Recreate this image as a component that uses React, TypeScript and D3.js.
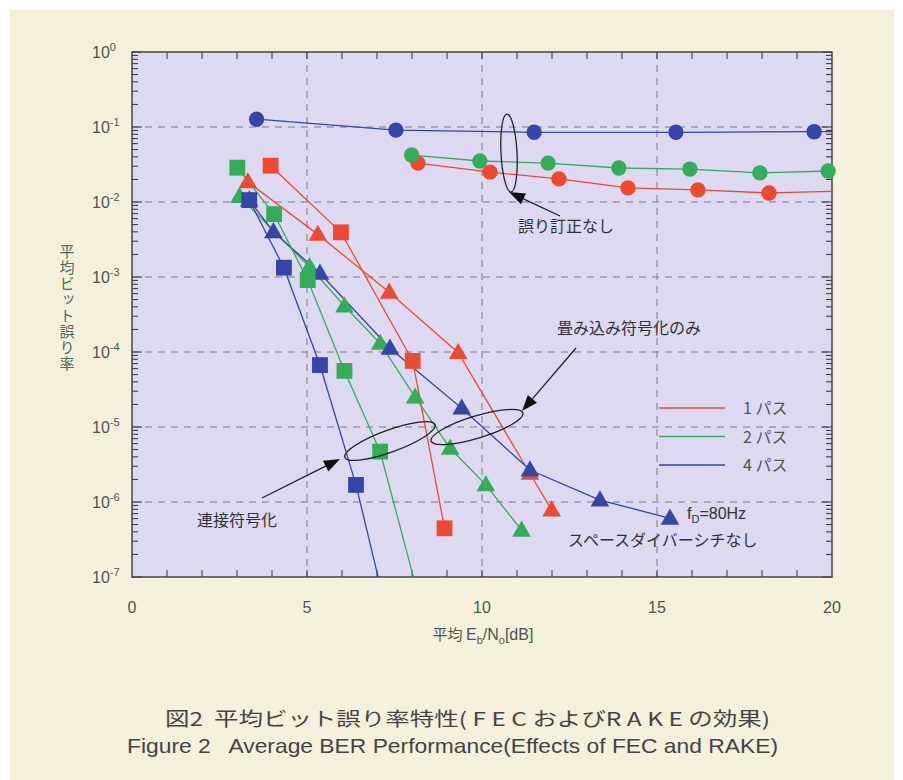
import React from 'react';
import * as d3 from 'd3';

// Eb/No [dB] and BER
const noFec1X = [8.17, 10.23, 12.2, 14.17, 16.17, 18.2, 20.5];
const noFec1Y = [0.033, 0.025, 0.0203, 0.0154, 0.0145, 0.0132, 0.0141];
const noFec2X = [7.99, 9.94, 11.89, 13.91, 15.94, 17.94, 19.89];
const noFec2Y = [0.0423, 0.0352, 0.033, 0.0284, 0.0275, 0.0244, 0.0259];
const noFec4X = [3.56, 7.54, 11.49, 15.54, 19.49, 20.6];
const noFec4Y = [0.127, 0.091, 0.085, 0.085, 0.0865, 0.0865];

const concat1X = [3.96, 5.97, 8.02, 8.93];
const concat1Y = [0.0305, 0.00394, 7.6e-5, 4.46e-7];
const concat2X = [3.01, 4.06, 5.02, 6.07, 7.09, 8.3];
const concat2Y = [0.0287, 0.0069, 9.1e-4, 5.6e-5, 4.7e-6, 3.5e-8];
const concat4X = [3.35, 4.34, 5.37, 6.4, 7.2];
const concat4Y = [0.0106, 1.33e-3, 6.7e-5, 1.69e-6, 4.7e-8];

const conv1X = [3.31, 5.31, 7.35, 9.32, 11.37, 11.99];
const conv1Y = [0.0185, 3.7e-3, 6.25e-4, 9.8e-5, 2.4e-6, 7.8e-7];
const conv2X = [3.07, 5.07, 6.07, 7.09, 8.09, 9.09, 10.11, 11.13];
const conv2Y = [0.0118, 1.37e-3, 4.1e-4, 1.3e-4, 2.5e-5, 5.2e-6, 1.69e-6, 4.2e-7];
const conv4X = [3.35, 4.04, 5.37, 7.37, 9.42, 11.37, 13.37, 15.37];
const conv4Y = [0.0106, 4.0e-3, 1.12e-3, 1.12e-4, 1.78e-5, 2.67e-6, 1.06e-6, 6.07e-7];

const xTicks = [0, 5, 10, 15, 20];
const yExponents = [0, -1, -2, -3, -4, -5, -6, -7];
const legendLabels = ['1 パス', '2 パス', '4 パス'];

const RED = '#ee4a30';
const GREEN = '#35ac58';
const BLUE = '#3446a8';
const colors = [RED, GREEN, BLUE];

const series = [
  { x: conv1X, y: conv1Y, color: RED, shape: 'tri' },
  { x: conv2X, y: conv2Y, color: GREEN, shape: 'tri' },
  { x: conv4X, y: conv4Y, color: BLUE, shape: 'tri' },
  { x: concat1X, y: concat1Y, color: RED, shape: 'sq' },
  { x: concat2X, y: concat2Y, color: GREEN, shape: 'sq' },
  { x: concat4X, y: concat4Y, color: BLUE, shape: 'sq' },
  { x: noFec1X, y: noFec1Y, color: RED, shape: 'circ' },
  { x: noFec2X, y: noFec2Y, color: GREEN, shape: 'circ' },
  { x: noFec4X, y: noFec4Y, color: BLUE, shape: 'circ' },
];

const W = 903, H = 780;
const L = 132, R = 832, T = 52, B = 577;
const TXT = '#4d5651';
const JP = '"Noto Sans CJK JP", "Noto Sans", sans-serif';
const NUM = '"Liberation Sans Narrow", "Liberation Sans", Arial, sans-serif';

const App = () => {
  const x = d3.scaleLinear().domain([0, 20]).range([L, R]);
  const y = d3.scaleLog().domain([1, 1e-7]).range([T, B]);

  const line = d3.line<[number, number]>().x(d => x(d[0])).y(d => y(d[1]));
  const symbols: Record<string, string> = {
    tri: d3.symbol(d3.symbolTriangle, 150)() as string,
    sq: d3.symbol(d3.symbolSquare, 250)() as string,
    circ: d3.symbol(d3.symbolCircle, 185)() as string,
  };

  const minorX = d3.range(1, 20);
  const minorY: number[] = [];
  for (let e = -7; e < 0; e++) for (let m = 2; m <= 9; m++) minorY.push(m * Math.pow(10, e));

  const arrowHead = (x1: number, y1: number, x2: number, y2: number) => {
    const a = Math.atan2(y2 - y1, x2 - x1);
    const len = 16, w = 6;
    const bx = x2 - len * Math.cos(a), by = y2 - len * Math.sin(a);
    const px = -Math.sin(a) * w, py = Math.cos(a) * w;
    return (
      <g>
        <line x1={x1} y1={y1} x2={bx} y2={by} stroke="#222" strokeWidth={1.3} />
        <path d={`M${x2},${y2}L${bx + px},${by + py}L${bx - px},${by - py}Z`} fill="#111" />
      </g>
    );
  };

  return (
    <svg width={W} height={H} style={{ position: 'absolute', left: 0, top: 0 }}>
      <rect width={W} height={H} fill="#ffffff" />
      <rect x={10} y={10} width={884} height={770} fill="#f4f0dc" />
      <defs>
        <clipPath id="plot">
          <rect x={L} y={T} width={R - L} height={B - T} />
        </clipPath>
      </defs>
      <rect x={L} y={T} width={R - L} height={B - T} fill="#dcd9f0" />

      {/* grid */}
      {xTicks.slice(1, -1).map(t => (
        <line key={'gx' + t} x1={x(t)} x2={x(t)} y1={T} y2={B} stroke="#7a7a80" strokeWidth={1} strokeDasharray="7,6" />
      ))}
      {yExponents.slice(1, -1).map(e => (
        <line key={'gy' + e} x1={L} x2={R} y1={y(Math.pow(10, e))} y2={y(Math.pow(10, e))} stroke="#7a7a80" strokeWidth={1} strokeDasharray="7,6" />
      ))}

      {/* ticks */}
      <g stroke="#333" strokeWidth={1}>
        {minorX.map(t => (
          <g key={'tx' + t}>
            <line x1={x(t)} x2={x(t)} y1={B} y2={B - 7} />
            <line x1={x(t)} x2={x(t)} y1={T} y2={T + 7} />
          </g>
        ))}
        {minorY.map((v, i) => (
          <g key={'ty' + i}>
            <line x1={L} x2={L + 6} y1={y(v)} y2={y(v)} />
            <line x1={R} x2={R - 6} y1={y(v)} y2={y(v)} />
          </g>
        ))}
        {yExponents.map(e => (
          <g key={'tyM' + e}>
            <line x1={L} x2={L + 10} y1={y(Math.pow(10, e))} y2={y(Math.pow(10, e))} />
            <line x1={R} x2={R - 10} y1={y(Math.pow(10, e))} y2={y(Math.pow(10, e))} />
          </g>
        ))}
      </g>
      <rect x={L} y={T} width={R - L} height={B - T} fill="none" stroke="#444" strokeWidth={1.5} />

      {/* lines */}
      <g clipPath="url(#plot)" fill="none" strokeWidth={1.3}>
        {series.map((s, i) => (
          <path key={'l' + i} d={line(s.x.map((v, j) => [v, s.y[j]]) as [number, number][]) as string} stroke={s.color} />
        ))}
      </g>
      {/* markers */}
      {series.map((s, i) => (
        <g key={'m' + i} fill={s.color}>
          {s.x.map((v, j) => (v <= 20 && s.y[j] >= 1e-7) ? (
            <path key={j} d={symbols[s.shape]} transform={`translate(${x(v)},${y(s.y[j]) + (s.shape === 'tri' ? 1 : 0)})`} />
          ) : null)}
        </g>
      ))}

      {/* axis labels */}
      <g fontFamily={NUM} fill={TXT}>
        {xTicks.map(t => (
          <text key={'xl' + t} x={x(t)} y={613} fontSize={16} textAnchor="middle">{t}</text>
        ))}
        {yExponents.map(e => (
          <text key={'yl' + e} x={92} y={y(Math.pow(10, e)) + 6} fontSize={16}>
            10<tspan dy={-7} fontSize={11}>{e}</tspan>
          </text>
        ))}
      </g>
      <text x={483} y={640} fontFamily={NUM} fontSize={16} fill={TXT} textAnchor="middle">
        <tspan fontFamily={JP} fontSize={15}>平均 </tspan>E<tspan dy={4} fontSize={11}>b</tspan>
        <tspan dy={-4}>/N</tspan><tspan dy={4} fontSize={11}>o</tspan><tspan dy={-4}>[dB]</tspan>
      </text>
      <text x={67} y={244} fontFamily={JP} fontSize={15} fill="#4f6a5e"
        style={{ writingMode: 'vertical-rl', textOrientation: 'upright', letterSpacing: '1px' }}>
        平均ビット誤り率
      </text>

      {/* legend */}
      {legendLabels.map((lab, i) => (
        <g key={'lg' + i}>
          <line x1={659} x2={725} y1={408 + i * 28.5} y2={408 + i * 28.5} stroke={colors[i]} strokeWidth={1.3} />
          <text x={743} y={414 + i * 28.5} fontFamily={JP} fontSize={16} fill={TXT}>{lab}</text>
        </g>
      ))}

      {/* annotations */}
      <ellipse cx={509} cy={153} rx={8} ry={39} fill="none" stroke="#222" strokeWidth={1.3} transform="rotate(-3,509,153)" />
      {arrowHead(560, 216, 509, 192)}
      <text x={518} y={232} fontFamily={JP} fontSize={16} fill="#333">誤り訂正なし</text>

      <ellipse cx={477} cy={427} rx={48} ry={11} fill="none" stroke="#222" strokeWidth={1.3} transform="rotate(-17,477,427)" />
      <ellipse cx={390} cy={441} rx={48} ry={11} fill="none" stroke="#222" strokeWidth={1.3} transform="rotate(-20,390,441)" />
      {arrowHead(576, 348, 522, 411)}
      <text x={557} y={334} fontFamily={JP} fontSize={16} fill="#333">畳み込み符号化のみ</text>
      {arrowHead(262, 498, 340, 459)}
      <text x={197} y={526} fontFamily={JP} fontSize={16} fill="#333">連接符号化</text>

      <text x={687} y={519} fontFamily={NUM} fontSize={16} fill="#333">
        f<tspan dy={4} fontSize={11}>D</tspan><tspan dy={-4}>=80Hz</tspan>
      </text>
      <text x={568} y={546} fontFamily={JP} fontSize={16} fill="#333">スペースダイバーシチなし</text>

      {/* caption */}
      <text x={165} y={726} fontFamily={JP} fontSize={19} fill="#444" textLength={605} lengthAdjust="spacingAndGlyphs" style={{ whiteSpace: 'pre' }}>
        {'図2  平均ビット誤り率特性( F E C およびR A K E の効果)'}
      </text>
      <text x={127} y={753} fontFamily={NUM} fontSize={21} fill="#444" textLength={651} lengthAdjust="spacingAndGlyphs" style={{ whiteSpace: 'pre' }}>
        {'Figure 2   Average BER Performance(Effects of FEC and RAKE)'}
      </text>
    </svg>
  );
};

export default App;
